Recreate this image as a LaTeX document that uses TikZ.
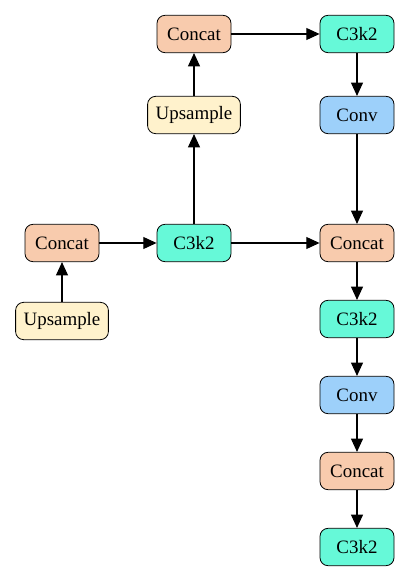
\documentclass[tikz,border=0pt]{standalone}
\usepackage{fontspec}
\setmainfont{Liberation Serif}
\usepackage{tikz}
\usetikzlibrary{arrows.meta}
\usetikzlibrary{shapes}

\definecolor{concatfill}{HTML}{F8CBAD}
\definecolor{cfill}{HTML}{66F9D8}
\definecolor{upfill}{HTML}{FFF2CC}
\definecolor{convfill}{HTML}{9DD0FA}

\tikzset{
  block/.style={draw, line width=0.6pt, rounded corners=6pt, minimum width=55.5pt,
    minimum height=28pt, inner xsep=6pt, font=\fontsize{14.2}{16}\selectfont},
  concatblock/.style={block, fill=concatfill},
  c3k2block/.style={block, fill=cfill},
  upblock/.style={block, fill=upfill},
  convblock/.style={block, fill=convfill}
}

\begin{document}
\begin{tikzpicture}[>={Triangle[length=10pt,width=9pt]}, x=0.75pt, y=-0.75pt, line width=0.8pt]
\useasboundingbox (0,0) rectangle (404,580);
\node[name=concat_1, concatblock] at (194,34) {Concat};
\node[name=c3k2_1, c3k2block] at (357,34) {C3k2};
\node[name=up_1, upblock, below of=concat_1, node distance=60.75pt]{Upsample};
\node[name=conv_1, convblock, below of=c3k2_1, node distance=60.75pt]{Conv};
\node[name=c3k2_2, c3k2block, below of=up_1, node distance=96pt]{C3k2};
\node[name=concat_2, concatblock, left of=c3k2_2, node distance=99pt]{Concat};
\node[name=up_2, upblock, below of=concat_2, node distance=58.5pt]{Upsample};
\node[name=concat_3, concatblock, below of=conv_1, node distance=96pt]{Concat};
\node[name=c3k2_3, c3k2block, below of=concat_3, node distance=57pt]{C3k2};
\node[name=conv_2, convblock, below of=c3k2_3, node distance=57pt]{Conv};
\node[name=concat_4, concatblock, below of=conv_2, node distance=57pt]{Concat};
\node[name=c3k2_4, c3k2block, below of=concat_4, node distance=57pt]{C3k2};

\draw(up_2.north) edge[->](concat_2.south);
\draw(concat_2.east) edge[->](c3k2_2.west);
\draw(c3k2_2.north) edge[->](up_1.south);
\draw(up_1.north) edge[->](concat_1.south);
\draw(concat_1.east) edge[->](c3k2_1.west);
\draw(c3k2_1.south) edge[->](conv_1.north);
\draw(conv_1.south) edge[->](concat_3.north);
\draw(c3k2_2.east) edge[->](concat_3.west);
\draw(concat_3.south) edge[->](c3k2_3.north);
\draw(c3k2_3.south) edge[->](conv_2.north);
\draw(conv_2.south) edge[->](concat_4.north);
\draw(concat_4.south) edge[->](c3k2_4.north);
\end{tikzpicture}
\end{document}
